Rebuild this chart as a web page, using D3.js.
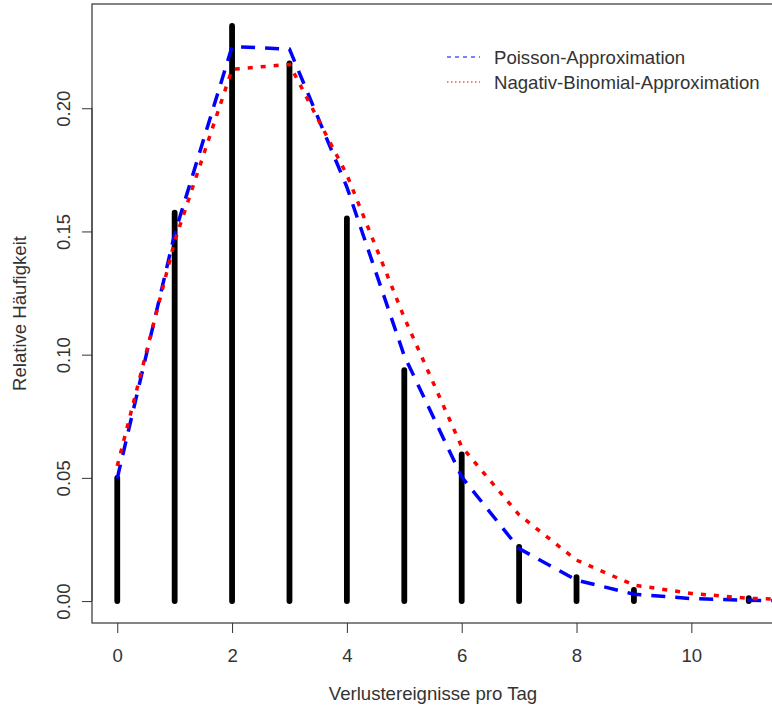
<!DOCTYPE html>
<html>
<head>
<meta charset="utf-8">
<script src="https://cdn.jsdelivr.net/npm/d3@7"></script>
<style>
  html, body { margin: 0; padding: 0; background: #fff; }
  svg { display: block; font-family: "Liberation Sans", Arial, sans-serif; }
</style>
</head>
<body>
<svg id="chart" width="772" height="709"></svg>
<script>
// beobachtete relative Haeufigkeiten (Stabdiagramm)
const counts = [0, 1, 2, 3, 4, 5, 6, 7, 8, 9, 11];
const relFreq = [0.050, 0.1576, 0.2334, 0.2182, 0.1553, 0.0937, 0.0595, 0.0220, 0.0097, 0.0045, 0.0012];

// Approximationen
const approxX = [0, 1, 2, 3, 4, 5, 6, 7, 8, 9, 10, 11, 12];
const poisson = [0.0498, 0.149, 0.225, 0.224, 0.168, 0.0995, 0.0504, 0.0213, 0.0085, 0.0028, 0.0010, 0.0003, 0.0001];
const negBinom = [0.0548, 0.146, 0.2158, 0.2178, 0.173, 0.115, 0.0626, 0.0350, 0.0166, 0.0065, 0.0031, 0.0011, 0.0005];

const xTicks = [0, 2, 4, 6, 8, 10];
const yTicks = [0, 0.05, 0.10, 0.15, 0.20];
const legendLabels = ["Poisson-Approximation", "Nagativ-Binomial-Approximation"];

const svg = d3.select("svg#chart");
const textColor = "#333";
const fontSize = "18.6px";

const plotLeft = 92, plotRight = 774, plotTop = 4, plotBottom = 623;

const scaleX = d3.scaleLinear()
    .domain([-0.44, 11.44])
    .range([plotLeft, plotRight]);
const scaleY = d3.scaleLinear()
    .domain([-0.0089, 0.2423])
    .range([plotBottom, plotTop]);

svg.append("clipPath").attr("id", "plotArea")
    .append("rect")
    .attr("x", plotLeft).attr("y", plotTop)
    .attr("width", plotRight - plotLeft).attr("height", plotBottom - plotTop);

// Achsen im R-Stil
const axisX = d3.axisBottom(scaleX).tickValues(xTicks).tickSize(10).tickFormat(d3.format("d"));
const axisY = d3.axisLeft(scaleY).tickValues(yTicks).tickSize(10).tickFormat(d3.format(".2f"));

const gx = svg.append("g")
    .attr("transform", `translate(0, ${plotBottom})`)
    .call(axisX);
gx.select(".domain").remove();
gx.selectAll("line").attr("stroke", textColor);
gx.selectAll("text")
    .attr("fill", textColor)
    .style("font-size", fontSize)
    .attr("y", 39).attr("dy", null);

const gy = svg.append("g")
    .attr("transform", `translate(${plotLeft}, 0)`)
    .call(axisY);
gy.select(".domain")
    .attr("d", `M0,${scaleY(0)}V${scaleY(0.2)}`)
    .attr("stroke", textColor);
gy.selectAll("line").attr("stroke", textColor);
gy.selectAll("text")
    .attr("fill", textColor)
    .style("font-size", fontSize)
    .attr("x", 0).attr("dy", null)
    .attr("text-anchor", "middle")
    .attr("transform", "translate(-22, 0) rotate(-90)");

// Rahmen
svg.append("rect")
    .attr("x", plotLeft).attr("y", plotTop)
    .attr("width", plotRight - plotLeft).attr("height", plotBottom - plotTop)
    .attr("fill", "none")
    .attr("stroke", textColor)
    .attr("stroke-width", 1.2);

// Achsentitel
svg.append("text")
    .attr("x", (plotLeft + plotRight) / 2).attr("y", 700)
    .attr("text-anchor", "middle")
    .attr("fill", textColor)
    .style("font-size", fontSize)
    .text("Verlustereignisse pro Tag");

svg.append("text")
    .attr("transform", `translate(26, ${(plotTop + plotBottom) / 2}) rotate(-90)`)
    .attr("text-anchor", "middle")
    .attr("fill", textColor)
    .style("font-size", fontSize)
    .text("Relative Häufigkeit");

const plot = svg.append("g").attr("clip-path", "url(#plotArea)");

// Staebe
plot.selectAll("line.bar")
    .data(counts.map((c, i) => ({x: c, f: relFreq[i]})))
    .join("line")
    .attr("class", "bar")
    .attr("x1", d => scaleX(d.x)).attr("x2", d => scaleX(d.x))
    .attr("y1", scaleY(0)).attr("y2", d => scaleY(d.f))
    .attr("stroke", "black")
    .attr("stroke-width", 5.8)
    .attr("stroke-linecap", "round");

const lineF = d3.line()
    .x(d => scaleX(d.x))
    .y(d => scaleY(d.f));

function drawLine(values, color, dash) {
    plot.append("path")
        .datum(approxX.map((x, i) => ({x: x, f: values[i]})))
        .attr("d", lineF)
        .attr("fill", "none")
        .attr("stroke", color)
        .attr("stroke-width", 3.5)
        .attr("stroke-dasharray", dash);
}

drawLine(poisson, "#0000ff", "14,10");
drawLine(negBinom, "#ff0000", "5,8");

// Legende (ohne Rahmen)
const legendColors = ["#0000ff", "#ff0000"];
const legendDash = ["4,4", "1.5,2.5"];
const legend = svg.append("g");
legendLabels.forEach((label, i) => {
    const y = 57 + i * 25;
    legend.append("line")
        .attr("x1", 447).attr("x2", 480)
        .attr("y1", y).attr("y2", y)
        .attr("stroke", legendColors[i])
        .attr("stroke-width", 1.2)
        .attr("stroke-dasharray", legendDash[i]);
    legend.append("text")
        .attr("x", 494).attr("y", y)
        .attr("dy", "0.35em")
        .attr("fill", textColor)
        .style("font-size", fontSize)
        .text(label);
});
</script>
</body>
</html>
